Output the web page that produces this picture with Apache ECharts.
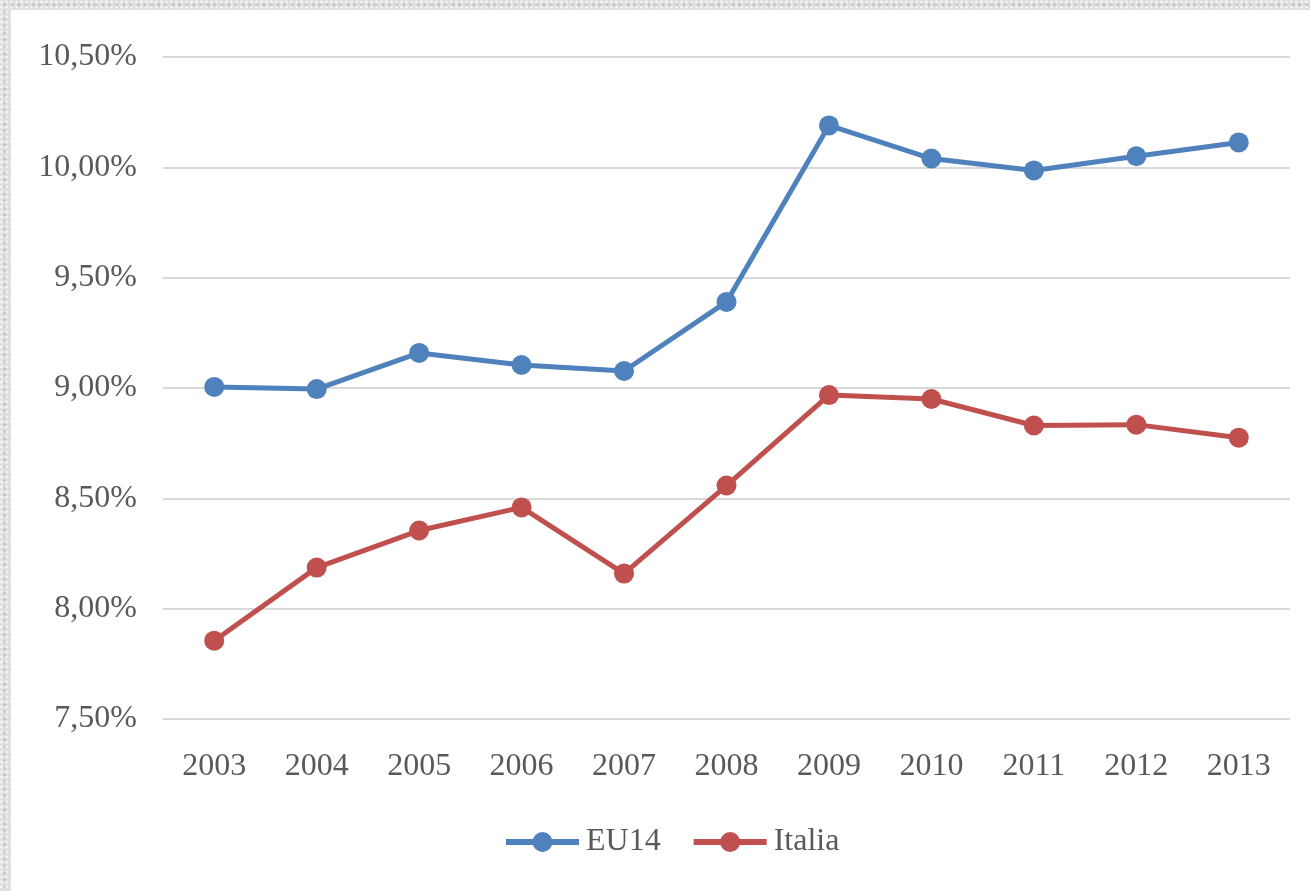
<!DOCTYPE html>
<html>
<head>
<meta charset="utf-8">
<script src="https://cdn.jsdelivr.net/npm/echarts@6/dist/echarts.min.js"></script>
<style>
html,body{margin:0;padding:0;width:1310px;height:891px;overflow:hidden;
background-color:#dedede;
background-image:radial-gradient(circle at 30% 40%, rgba(255,255,255,0.6) 1px, transparent 2px),radial-gradient(circle at 70% 70%, rgba(160,160,160,0.5) 1px, transparent 2px);
background-size:5px 5px,7px 7px;}
#chart{position:absolute;left:11px;top:10px;width:1299px;height:881px;background:#fff;}
</style>
</head>
<body>
<div id="chart"></div>
<script>
const years = ['2003','2004','2005','2006','2007','2008','2009','2010','2011','2012','2013'];
const eu14 = [9.005, 8.995, 9.159, 9.104, 9.077, 9.39, 10.19, 10.04, 9.986, 10.05, 10.113];
const italia = [7.855, 8.186, 8.354, 8.459, 8.159, 8.558, 8.968, 8.95, 8.83, 8.834, 8.775];
const seriesNames = ['EU14','Italia'];
const yMin = 7.5, yMax = 10.5, yStep = 0.5;

const chart = echarts.init(document.getElementById('chart'));
const font = '"Liberation Serif", "Times New Roman", serif';
chart.setOption({
  animation:false,
  backgroundColor:'#ffffff',
  textStyle:{fontFamily:font},
  grid:{left:152,right:20,top:47,bottom:172,containLabel:false},
  legend:{
    bottom: 28,
    left:487,
    itemWidth:73,itemHeight:25,itemGap:30,
    lineStyle:{width:6},
    textStyle:{fontFamily:font,fontSize:32,color:'#595959',padding:[0,0,0,2]},
    data:seriesNames
  },
  xAxis:{
    type:'category',data:years,boundaryGap:true,
    axisLine:{show:false},axisTick:{show:false},
    axisLabel:{fontFamily:font,fontSize:32,color:'#595959',margin:32}
  },
  yAxis:{
    type:'value',min:yMin,max:yMax,interval:yStep,
    axisLine:{show:false},axisTick:{show:false},
    splitLine:{lineStyle:{color:'#d9d9d9',width:2}},
    axisLabel:{fontFamily:font,fontSize:32,color:'#595959',margin:26,padding:[4,0,0,0],
      formatter:v=>v.toFixed(2).replace('.',',')+'%'}
  },
  series:[
    {name:seriesNames[0],type:'line',data:eu14,symbol:'circle',symbolSize:20,
     lineStyle:{width:5,color:'#4f81bd'},itemStyle:{color:'#4f81bd'}},
    {name:seriesNames[1],type:'line',data:italia,symbol:'circle',symbolSize:20,
     lineStyle:{width:5,color:'#c0504d'},itemStyle:{color:'#c0504d'}}
  ]
});
</script>
</body>
</html>
